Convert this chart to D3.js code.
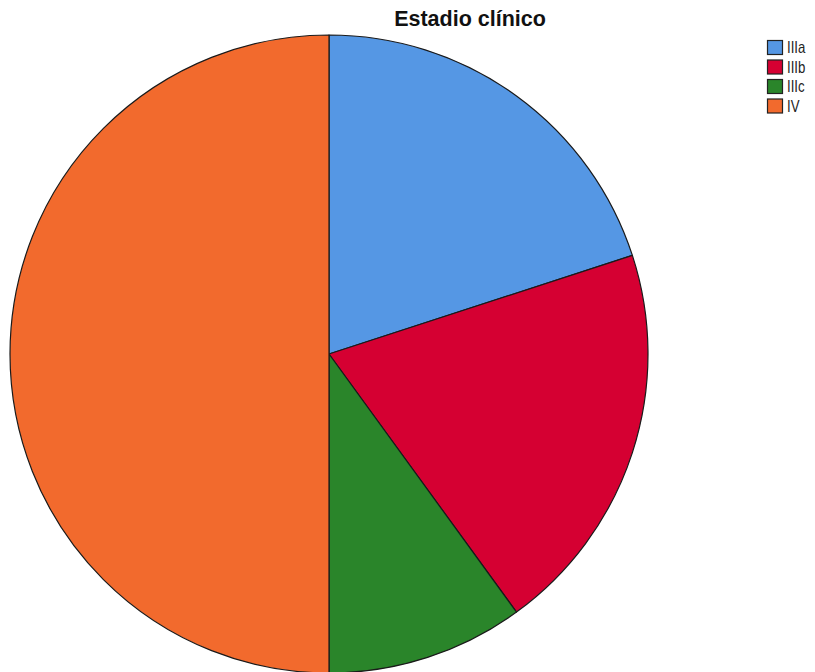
<!DOCTYPE html>
<html>
<head>
<meta charset="utf-8">
<script src="https://cdn.jsdelivr.net/npm/d3@7"></script>
<style>
  html, body { margin: 0; padding: 0; background: #ffffff; }
  svg { display: block; }
</style>
</head>
<body>
<svg id="chart" width="815" height="672"></svg>
<script>
// Clinical stage distribution
const categories = ["IIIa", "IIIb", "IIIc", "IV"];
const counts = [4, 4, 2, 10];
const colors = ["#5597e4", "#d50032", "#2a852a", "#f26a2d"];
const title = "Estadio clínico";

const svg = d3.select("#chart");
const cx = 329, cy = 354, radius = 319;

const pie = d3.pie().sort(null).value(d => d.value);
const arc = d3.arc().innerRadius(0).outerRadius(radius);
const data = categories.map((c, i) => ({ name: c, value: counts[i], color: colors[i] }));

svg.append("g")
  .attr("transform", `translate(${cx},${cy})`)
  .selectAll("path")
  .data(pie(data))
  .join("path")
  .attr("d", arc)
  .attr("fill", d => d.data.color)
  .attr("stroke", "#1a1a1a")
  .attr("stroke-width", 1.2)
  .attr("stroke-linejoin", "round");

svg.append("text")
  .attr("x", 470)
  .attr("y", 26)
  .attr("text-anchor", "middle")
  .attr("font-family", "Liberation Sans, Arial, sans-serif")
  .attr("font-weight", "bold")
  .attr("font-size", 21.5)
  .attr("fill", "#111")
  .text(title);

const legend = svg.append("g").attr("transform", "translate(767,40)");
const item = legend.selectAll("g")
  .data(data)
  .join("g")
  .attr("transform", (d, i) => `translate(0,${i * 19.5})`);
item.append("rect")
  .attr("x", 0.5).attr("y", 0.5)
  .attr("width", 15).attr("height", 14)
  .attr("fill", d => d.color)
  .attr("stroke", "#222")
  .attr("stroke-width", 1.2);
item.append("text")
  .attr("transform", "translate(20,13) scale(0.8,1)")
  .attr("font-family", "Liberation Sans, Arial, sans-serif")
  .attr("font-size", 16.5)
  .attr("fill", "#222")
  .text(d => d.name);
</script>
</body>
</html>
